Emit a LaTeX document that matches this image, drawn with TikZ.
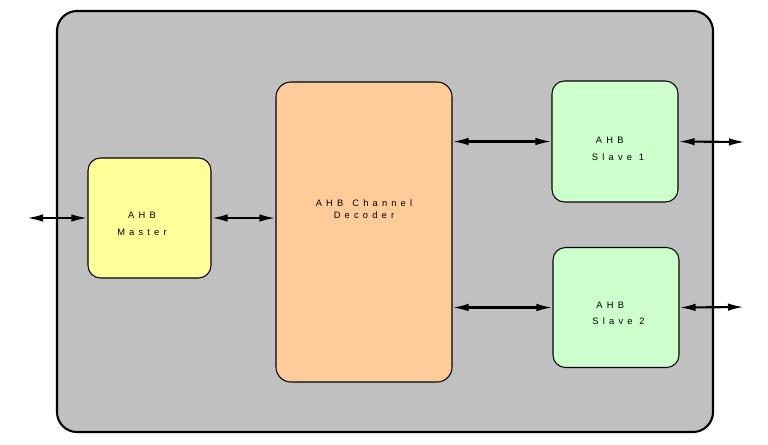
\documentclass[tikz,border=0pt]{standalone}
\usepackage{fontspec}
\newfontfamily\ahbfont[LetterSpace=45]{Liberation Sans}
\usetikzlibrary{arrows.meta}
\definecolor{ahbgray}{HTML}{C0C0C0}
\definecolor{masteryellow}{HTML}{FFFF99}
\definecolor{decoderorange}{HTML}{FFCC99}
\definecolor{slavegreen}{HTML}{CCFFCC}

\begin{document}
\begin{tikzpicture}[
    blk/.style={draw, line width=0.6pt, rounded corners=0.25cm, inner sep=0pt},
    lbl/.style={font=\ahbfont\fontsize{5.3}{9.4}\selectfont, inner sep=0pt},
    bus/.style={line width=1.2pt, {Latex[length=0.32cm,width=0.15cm]}-{Latex[length=0.32cm,width=0.15cm]}}]
\useasboundingbox (0,0) rectangle (15.36,-8.88);
\draw[line width=1.2pt, fill=ahbgray, rounded corners=0.4cm] (1.14,-0.22) rectangle (14.26,-8.64);

\node[blk, fill=masteryellow, minimum width=2.46cm, minimum height=2.4cm] (master) at (2.99,-4.36) {};
\node[blk, fill=decoderorange, minimum width=3.52cm, minimum height=6cm, rounded corners=0.3cm] (decoder) at (7.28,-4.64) {};
\node[blk, fill=slavegreen, minimum width=2.52cm, minimum height=2.42cm] (slave1) at (12.30,-2.83) {};
\node[blk, fill=slavegreen, minimum width=2.52cm, minimum height=2.4cm] (slave2) at (12.32,-6.15) {};

\node[lbl, align=center] (mastertxt) at (2.84,-4.48) {AHB\\Master};
\node[lbl, align=center] (decodertxt) at (7.28,-4.19) {AHB\hspace{0.18cm}Channel\\[-2.6pt]Decoder};
\node[lbl, align=left] (slave1txt) at (12.36,-2.98) {\hspace{0.08cm}AHB\\Slave 1};
\node[lbl, align=left] (slave2txt) at (12.37,-6.27) {\hspace{0.08cm}AHB\\Slave 2};

\coordinate (masterin) at (0.54,-4.36);
\coordinate (slave1out) at (14.9,-2.84);
\coordinate (slave2out) at (14.88,-6.14);

\draw[bus] (masterin) -- (master.west);
\draw[bus] (master.east) -- (master.east -| decoder.west);
\draw[bus] (slave1.west -| decoder.east) -- (slave1.west);
\draw[bus] (slave2.west -| decoder.east) -- (slave2.west);
\draw[bus] (slave1.east) -- (slave1out);
\draw[bus] (slave2.east) -- (slave2out);
\end{tikzpicture}
\end{document}
